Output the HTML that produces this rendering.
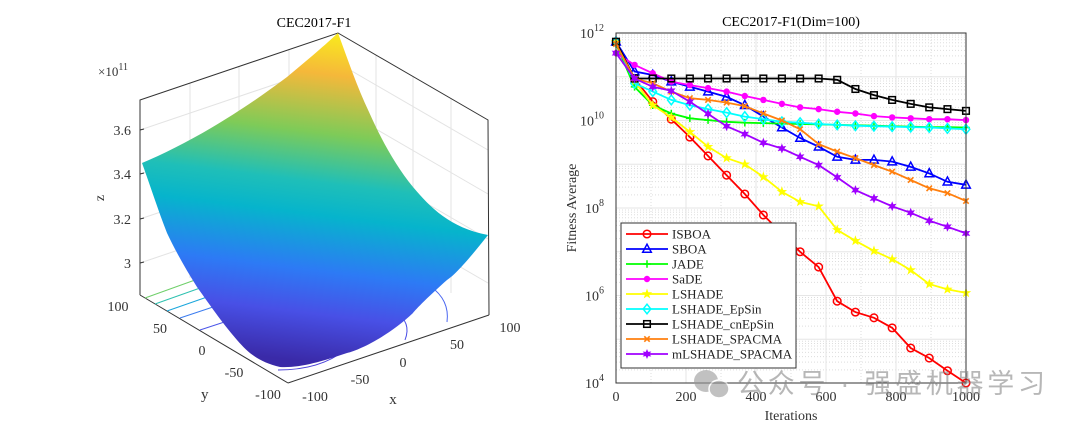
<!DOCTYPE html>
<html><head><meta charset="utf-8"><style>
html,body{margin:0;padding:0;background:#fff;}
svg{display:block;font-family:"Liberation Serif",serif;}
</style></head><body>
<svg id="root" width="1080" height="431" viewBox="0 0 1080 431" xmlns="http://www.w3.org/2000/svg">
<defs>
<linearGradient id="surf" gradientUnits="userSpaceOnUse" x1="330" y1="35" x2="290" y2="360">
<stop offset="0" stop-color="#f9e81f"/>
<stop offset="0.12" stop-color="#f5b83a"/>
<stop offset="0.3" stop-color="#7ecb58"/>
<stop offset="0.45" stop-color="#1fbfb8"/>
<stop offset="0.55" stop-color="#06b4cc"/>
<stop offset="0.72" stop-color="#2d7af5"/>
<stop offset="0.85" stop-color="#4850e6"/>
<stop offset="1" stop-color="#3a2aa8"/>
</linearGradient>
</defs>
<g>
<text x="314" y="27" font-size="14" text-anchor="middle">CEC2017-F1</text>
<g stroke="#e3e3e3" stroke-width="1" fill="none">
<line x1="140" y1="130" x2="338" y2="63"/><line x1="140" y1="174" x2="338" y2="107"/><line x1="140" y1="219" x2="338" y2="152"/><line x1="140" y1="263" x2="338" y2="196"/>
<line x1="338" y1="63" x2="488" y2="150"/><line x1="338" y1="107" x2="488" y2="194"/><line x1="338" y1="152" x2="488" y2="239"/><line x1="338" y1="196" x2="488" y2="283"/>
<line x1="190" y1="83" x2="190" y2="278"/><line x1="239" y1="67" x2="239" y2="262"/><line x1="289" y1="50" x2="289" y2="245"/>
<line x1="376" y1="55" x2="376" y2="250"/><line x1="413" y1="77" x2="413" y2="272"/><line x1="451" y1="98" x2="451" y2="293"/>
</g>
<g stroke="#333" stroke-width="1" fill="none">
<polyline points="140,295 140,100 338,33 488,120 489,315"/>
<line x1="140" y1="295" x2="288" y2="383"/><line x1="288" y1="383" x2="489" y2="315"/>
</g>
<g fill="none" stroke-width="1">
<path d="M145,298 L245,262" stroke="#6fcf6a"/><path d="M155,304 L248,271" stroke="#2ec1b0"/><path d="M167,311 L250,282" stroke="#1aa6dc"/><path d="M180,318 L252,294" stroke="#3b7cf0"/><path d="M200,330 L255,312" stroke="#4a55e8"/>
<path d="M430,286 Q450,300 447,322" stroke="#4a66f0"/><path d="M395,312 Q412,322 405,340" stroke="#4b4ee6"/><path d="M278,370 Q320,370 345,350" stroke="#4a40d8"/>
</g>
<path fill="url(#surf)" d="M142,163 C180,147 230,120 287,77 C310,58 325,45 338,33 C348,60 357,87 369,112 C380,137 395,165 413,187 C430,207 450,228 488,235 C470,258 455,275 447,280 C430,295 415,310 413,313 C390,335 360,350 347,353 C320,362 300,368 280,367 C260,362 250,355 237,340 C220,320 210,305 197,287 C185,268 175,250 167,233 C158,210 150,185 142,163 Z"/>
<g font-size="14" fill="#333">
<text x="131" y="135" text-anchor="end">3.6</text><text x="131" y="179" text-anchor="end">3.4</text><text x="131" y="224" text-anchor="end">3.2</text><text x="131" y="268" text-anchor="end">3</text>
</g>
<g stroke="#333"><line x1="140" y1="130" x2="144" y2="129"/><line x1="140" y1="174" x2="144" y2="173"/><line x1="140" y1="219" x2="144" y2="218"/><line x1="140" y1="263" x2="144" y2="262"/></g>
<text x="98" y="76" font-size="13" fill="#333">×10<tspan font-size="10" dy="-6">11</tspan></text>
<text x="104" y="198" font-size="14" fill="#333" transform="rotate(-90 104 198)" text-anchor="middle">z</text>
<g font-size="14" fill="#333" text-anchor="middle">
<text x="118" y="311">100</text><text x="160" y="333">50</text><text x="202" y="355">0</text><text x="234" y="377">-50</text><text x="268" y="399">-100</text>
</g>
<text x="201" y="399" font-size="15" fill="#333">y</text>
<g font-size="14" fill="#333" text-anchor="middle">
<text x="315" y="401">-100</text><text x="360" y="384">-50</text><text x="403" y="367">0</text><text x="457" y="349">50</text><text x="510" y="332">100</text>
</g>
<text x="393" y="404" font-size="15" fill="#333" text-anchor="middle">x</text>
</g>

<g id="conv">
<rect x="616" y="33" width="350" height="350" fill="#fff"/>
<g id="grid"></g>
<g id="series"></g>
<rect x="616" y="33" width="350" height="350" fill="none" stroke="#333" stroke-width="1"/>
<text x="791" y="26" font-size="14" text-anchor="middle">CEC2017-F1(Dim=100)</text>
<g id="ticks" font-size="14" fill="#333"></g>
<text x="791" y="420" font-size="14" text-anchor="middle" fill="#333">Iterations</text>
<text x="576" y="208" font-size="14" text-anchor="middle" fill="#333" transform="rotate(-90 576 208)">Fitness Average</text>
<g id="legend"></g>
</g>
<g opacity="0.6">
<ellipse cx="706" cy="381" rx="12" ry="11" fill="#999"/><ellipse cx="719" cy="389" rx="10" ry="9" fill="#999" stroke="#fff" stroke-width="1.5"/>
<text x="737" y="393" font-size="27" fill="#888" font-family="'Liberation Sans','Noto Sans CJK SC',sans-serif" textLength="308">公众号 · 强盛机器学习</text>
</g>
</svg>
<script>
const NS="http://www.w3.org/2000/svg";
const iterations=[0,53,105,158,211,263,316,368,421,474,526,579,632,684,737,789,842,895,947,1000];
const seriesNames=["ISBOA","SBOA","JADE","SaDE","LSHADE","LSHADE_EpSin","LSHADE_cnEpSin","LSHADE_SPACMA","mLSHADE_SPACMA"];
const isboa=[11.8,10.96,10.43,10.03,9.62,9.19,8.75,8.32,7.84,7.42,7.0,6.65,5.87,5.62,5.49,5.26,4.80,4.57,4.28,4.0];
const sboa=[11.8,11.12,11.04,10.89,10.77,10.66,10.54,10.35,10.09,9.84,9.6,9.4,9.17,9.1,9.1,9.06,8.94,8.79,8.6,8.53];
const jade=[11.75,10.77,10.35,10.16,10.05,10.01,9.97,9.95,9.94,9.93,9.92,9.91,9.9,9.89,9.88,9.87,9.86,9.85,9.85,9.84];
const sade=[11.54,11.27,11.08,10.89,10.81,10.74,10.66,10.56,10.47,10.38,10.30,10.26,10.20,10.16,10.10,10.07,10.05,10.03,10.03,10.01];
const lshade=[11.8,10.89,10.35,10.07,9.74,9.4,9.14,9.0,8.71,8.37,8.14,8.04,7.5,7.25,7.02,6.83,6.58,6.26,6.14,6.06];
const epsin=[11.8,10.85,10.66,10.47,10.35,10.26,10.18,10.09,10.03,9.97,9.95,9.92,9.9,9.88,9.87,9.86,9.85,9.84,9.82,9.8];
const cnepsin=[11.8,10.96,10.96,10.96,10.96,10.96,10.96,10.96,10.96,10.96,10.96,10.96,10.93,10.72,10.58,10.47,10.38,10.30,10.26,10.22];
const spacma=[11.75,10.96,10.85,10.66,10.51,10.47,10.41,10.33,10.16,10.0,9.8,9.46,9.29,9.14,8.98,8.83,8.64,8.45,8.34,8.16];
const mspacma=[11.54,10.96,10.77,10.68,10.43,10.15,9.87,9.69,9.49,9.36,9.17,8.98,8.70,8.41,8.22,8.04,7.89,7.71,7.57,7.42];
const xTicks=[0,200,400,600,800,1000];
const yTickExps=[12,10,8,6,4];
const allSeries=[isboa,sboa,jade,sade,lshade,epsin,cnepsin,spacma,mspacma];
const colors=["#ff0000","#0000ff","#00ff00","#ff00ff","#ffff00","#00ffff","#000000","#ff7f0e","#a000ff"];
const markers=["circle","triangle","plus","dot","star","diamond","square","x","hex"];
const X0=616,X1=966,Y0=383,Y1=33;
function sx(v){return X0+(v-0)/(1000-0)*(X1-X0);}
function sy(e){return Y0-(e-4)/(12-4)*(Y0-Y1);}
function mk(t,a,p){const e=document.createElementNS(NS,t);for(const k in a)e.setAttribute(k,a[k]);(p||document.getElementById('root')).appendChild(e);return e;}
const grid=document.getElementById('grid');
for(let d=4;d<12;d++){for(let m=2;m<=9;m++){const y=sy(d+Math.log10(m));const l=mk('line',{x1:X0,x2:X1,y1:y,y2:y,stroke:'#ddd','stroke-dasharray':'1,2'},grid);

}}
for(let d=5;d<12;d++){const y=sy(d);const l=mk('line',{x1:X0,x2:X1,y1:y,y2:y,stroke:'#e6e6e6'},grid);

}
for(let v=100;v<1000;v+=100){const x=sx(v);const l=mk('line',{x1:x,x2:x,y1:Y0,y2:Y1,stroke:v%200?'#ddd':'#e6e6e6','stroke-dasharray':v%200?'1,2':'none'},grid);

}
const ticks=document.getElementById('ticks');
xTicks.forEach(v=>{const t=mk('text',{x:sx(v),y:401,'text-anchor':'middle'},ticks);t.textContent=v;

});
yTickExps.forEach(e=>{const t=mk('text',{x:604,y:sy(e)+5,'text-anchor':'end'},ticks);t.innerHTML='10<tspan font-size="10" dy="-7">'+e+'</tspan>';

});
function marker(type,x,y,c,p){const s=3.8;let e;
if(type==='circle')e=mk('circle',{cx:x,cy:y,r:s,fill:'none',stroke:c,'stroke-width':1.5},p);
else if(type==='triangle')e=mk('polygon',{points:`${x},${y-s-1} ${x-s-0.5},${y+s-0.5} ${x+s+0.5},${y+s-0.5}`,fill:'none',stroke:c,'stroke-width':1.5},p);
else if(type==='plus')e=mk('path',{d:`M${x-s},${y}H${x+s}M${x},${y-s}V${y+s}`,stroke:c,'stroke-width':1.5},p);
else if(type==='dot')e=mk('circle',{cx:x,cy:y,r:3.2,fill:c},p);
else if(type==='star'){let pts=[];for(let i=0;i<10;i++){const r=i%2?2.2:5.5;const a=-Math.PI/2+i*Math.PI/5;pts.push((x+r*Math.cos(a)).toFixed(1)+','+(y+r*Math.sin(a)).toFixed(1));}e=mk('polygon',{points:pts.join(' '),fill:c},p);}
else if(type==='diamond')e=mk('polygon',{points:`${x},${y-s-1} ${x+s},${y} ${x},${y+s+1} ${x-s},${y}`,fill:'none',stroke:c,'stroke-width':1.5},p);
else if(type==='square')e=mk('rect',{x:x-3.3,y:y-3.3,width:6.6,height:6.6,fill:'none',stroke:c,'stroke-width':1.5},p);
else if(type==='x')e=mk('path',{d:`M${x-2.7},${y-2.7}L${x+2.7},${y+2.7}M${x-2.7},${y+2.7}L${x+2.7},${y-2.7}`,stroke:c,'stroke-width':1.6},p);
else {let pts=[];for(let i=0;i<12;i++){const r=i%2?2.4:5;const a=-Math.PI/2+i*Math.PI/6;pts.push((x+r*Math.cos(a)).toFixed(1)+','+(y+r*Math.sin(a)).toFixed(1));}e=mk('polygon',{points:pts.join(' '),fill:c},p);}
return e;}
const sg=document.getElementById('series');
allSeries.forEach((vals,k)=>{const g=mk('g',{},sg);


const pts=vals.map((v,i)=>sx(iterations[i]).toFixed(1)+','+sy(v).toFixed(1)).join(' ');
const pl=mk('polyline',{points:pts,fill:'none',stroke:colors[k],'stroke-width':1.8},g);


vals.forEach((v,i)=>{const m=marker(markers[k],sx(iterations[i]),sy(v),colors[k],g);

});});
const lg=document.getElementById('legend');
mk('rect',{x:621,y:223,width:175,height:145,fill:'#fff',stroke:'#333','stroke-width':1},lg);
seriesNames.forEach((n,k)=>{const y=234+k*15;const g=mk('g',{},lg);


mk('line',{x1:626,x2:668,y1:y,y2:y,stroke:colors[k],'stroke-width':1.8},g);
marker(markers[k],647,y,colors[k],g);
const t=mk('text',{x:672,y:y+4.5,'font-size':13,fill:'#222'},g);t.textContent=n;});
</script>
</body></html>
